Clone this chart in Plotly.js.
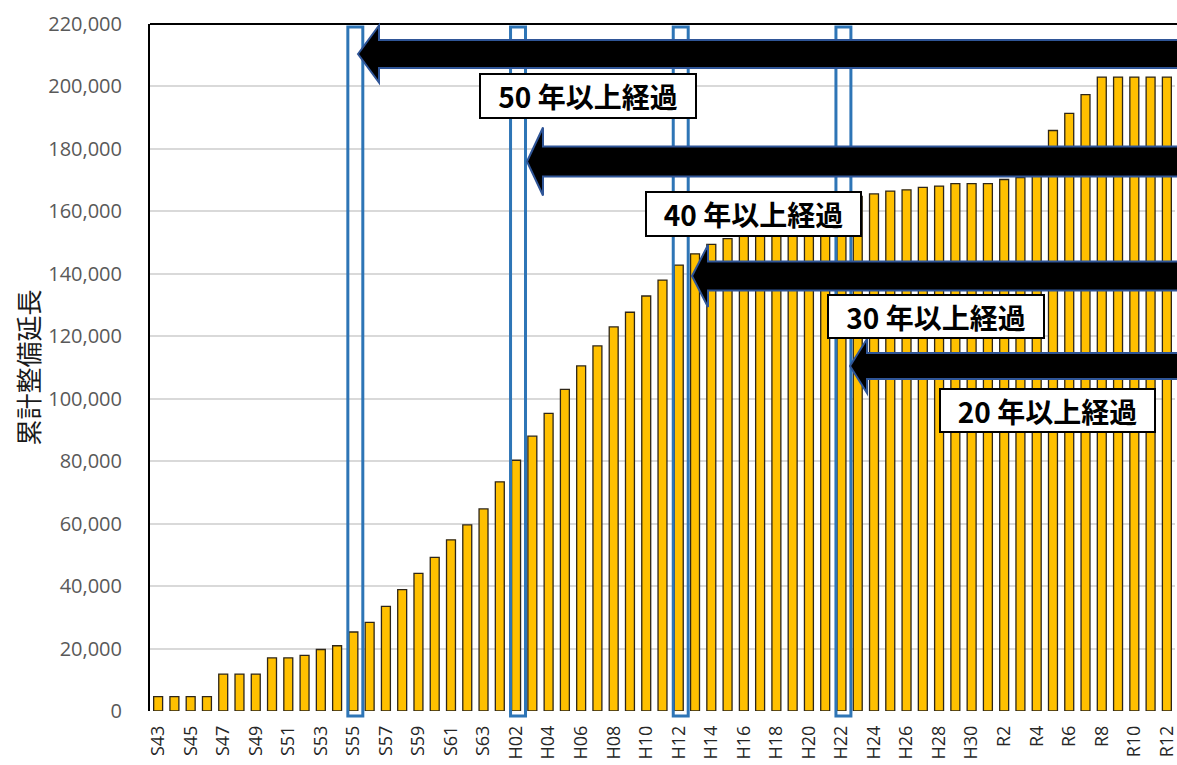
<!DOCTYPE html>
<html>
<head>
<meta charset="utf-8">
<script src="https://cdn.plot.ly/plotly-3.0.1.min.js"></script>
<style>html,body{margin:0;padding:0;background:#fff}#chart{width:1177px;height:765px}</style>
</head>
<body>
<div id="chart"></div>
<script>
// ---- data ----
const categories = [
  "S43","S44","S45","S46","S47","S48","S49","S50","S51","S52","S53","S54","S55","S56","S57","S58","S59","S60","S61","S62","S63",
  "H01","H02","H03","H04","H05","H06","H07","H08","H09","H10","H11","H12","H13","H14","H15","H16","H17","H18","H19","H20",
  "H21","H22","H23","H24","H25","H26","H27","H28","H29","H30",
  "R1","R2","R3","R4","R5","R6","R7","R8","R9","R10","R11","R12"
];
const cumulativeLength = [
  4600,4600,4600,4600,11800,11800,11800,17000,17000,17800,19700,20900,25300,28400,33500,38900,44100,49200,54800,59600,64700,
  73400,80300,88000,95300,103000,110500,116900,123000,127700,132900,138000,142800,146400,149400,151300,153200,155400,157600,159300,160800,
  162300,163700,164800,165600,166500,166900,167700,168100,168900,168900,
  168900,170200,170800,171500,185900,191400,197400,203000,203000,203000,203000,203000
];
const highlighted = ["S55","H02","H12","H22"];
const labelTexts = ["50 年以上経過","40 年以上経過","30 年以上経過","20 年以上経過"];
const yTitle = "累計整備延長";

// ---- layout helpers (pixel -> paper) ----
const PL = 150, PW = 1025, PB = 711, PH = 687;
const px = v => (v - PL) / PW;
const py = v => (PB - v) / PH;

function arrowPath(tipX, cy, shaftHalf, headHalf, baseX, endX) {
  const pts = [
    [tipX, cy],
    [baseX, cy - headHalf],
    [baseX, cy - shaftHalf],
    [endX, cy - shaftHalf],
    [endX, cy + shaftHalf],
    [baseX, cy + shaftHalf],
    [baseX, cy + headHalf]
  ];
  return "M" + pts.map(p => px(p[0]).toFixed(5) + "," + py(p[1]).toFixed(5)).join(" L") + " Z";
}

const arrowDefs = [
  {tip: 358, cy: 54, sh: 14, hh: 28.5, base: 379},
  {tip: 527, cy: 161.5, sh: 15, hh: 34, base: 543},
  {tip: 692, cy: 276, sh: 14.5, hh: 31, base: 708},
  {tip: 850, cy: 366, sh: 13, hh: 27, base: 867}
];
const boxDefs = [
  {cx: 588, cy: 96, w: 218, h: 46},
  {cx: 753.5, cy: 214, w: 217, h: 46},
  {cx: 936, cy: 316.5, w: 218, h: 45},
  {cx: 1047.5, cy: 410.5, w: 217, h: 45}
];

const shapes = [];
// top frame line
shapes.push({type: "line", xref: "paper", yref: "paper", x0: 0, x1: 1.01, y0: 1, y1: 1,
  line: {color: "#000", width: 2}, layer: "above"});
// blue highlight rectangles
highlighted.forEach(c => {
  const i = categories.indexOf(c);
  shapes.push({type: "rect", xref: "x", yref: "paper", x0: i - 0.34, x1: i + 0.58,
    y0: py(716), y1: py(27), line: {color: "#2E75B6", width: 3}, fillcolor: "rgba(0,0,0,0)", layer: "above"});
});
// arrows
arrowDefs.forEach(a => {
  shapes.push({type: "path", xref: "paper", yref: "paper", path: arrowPath(a.tip, a.cy, a.sh, a.hh, a.base, 1195),
    fillcolor: "#000", line: {color: "#2F5597", width: 2}, layer: "above"});
});

const annotations = labelTexts.map((t, k) => {
  const b = boxDefs[k];
  return {
    text: t, xref: "paper", yref: "paper", x: px(b.cx), y: py(b.cy),
    xanchor: "center", yanchor: "middle", showarrow: false,
    width: b.w - 6, height: b.h - 6, align: "center", valign: "middle",
    bgcolor: "#fff", bordercolor: "#000", borderwidth: 2, borderpad: 1,
    font: {family: "'Noto Sans CJK JP', 'Noto Sans', sans-serif", size: 28, color: "#000", weight: 700}
  };
});

const trace = {
  type: "bar", x: categories, y: cumulativeLength,
  marker: {color: "#FFC000", line: {color: "#2e2618", width: 1.3}},
  hoverinfo: "x+y"
};

const layout = {
  width: 1177, height: 765,
  margin: {l: 150, r: 2, t: 24, b: 54, pad: 0},
  paper_bgcolor: "#fff", plot_bgcolor: "#fff",
  showlegend: false,
  bargap: 0.45,
  font: {family: "'Open Sans', 'Noto Sans', sans-serif", color: "#595959"},
  xaxis: {
    type: "category", range: [-0.5, 62.5], tickmode: "linear", tick0: 0, dtick: 2,
    tickangle: -90, tickfont: {size: 18, color: "#262626"}, ticks: "", showgrid: false,
    showline: false, zeroline: false, automargin: false, ticklabelstandoff: 10
  },
  yaxis: {
    range: [0, 220000], dtick: 20000, tickformat: ",d",
    tickfont: {size: 20, color: "#595959"},
    showgrid: true, gridcolor: "#d9d9d9", gridwidth: 2,
    showline: true, linecolor: "#000", linewidth: 2, zeroline: false,
    ticks: "", ticklabelstandoff: 22, automargin: false,
    title: {text: yTitle, standoff: 1, font: {family: "'Noto Sans CJK JP', sans-serif", size: 26, color: "#1a1a1a"}}
  },
  shapes: shapes,
  annotations: annotations
};

Plotly.newPlot("chart", [trace], layout, {displayModeBar: false, staticPlot: true});
</script>
</body>
</html>
